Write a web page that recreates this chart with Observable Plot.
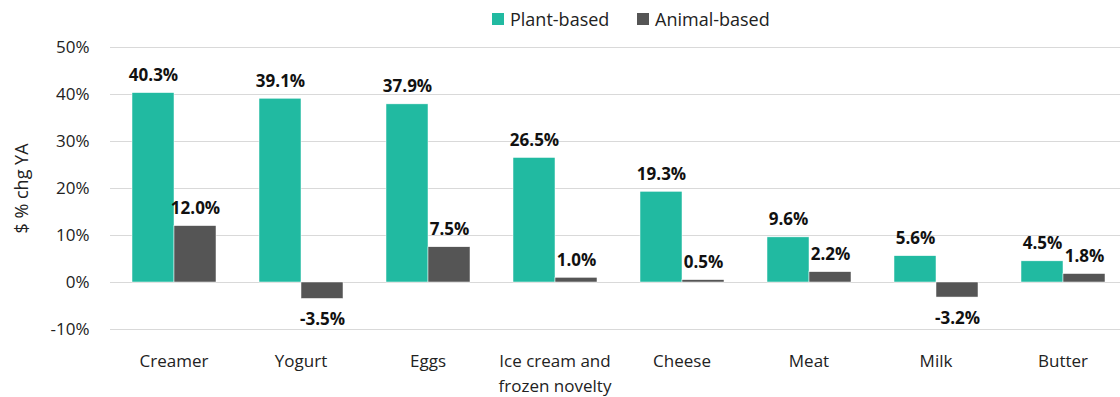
<!DOCTYPE html>
<html>
<head>
<meta charset="utf-8">
<script src="https://cdn.jsdelivr.net/npm/d3@7"></script>
<script src="https://cdn.jsdelivr.net/npm/@observablehq/plot@0.6"></script>
<style>
  html, body { margin: 0; padding: 0; background: #fff; }
  body { width: 1120px; height: 397px; overflow: hidden; font-family: "Open Sans", sans-serif; color: #222; }
  #legend { height: 36px; position: relative; font-size: 18px; }
  .item { position: absolute; top: 6px; display: flex; align-items: center; gap: 6px; line-height: 26px; }
  .sw { width: 12px; height: 12px; display: inline-block; }
</style>
</head>
<body>
<div id="legend"></div>
<div id="chart"></div>
<script>
const categories = ["Creamer", "Yogurt", "Eggs", "Ice cream and\nfrozen novelty", "Cheese", "Meat", "Milk", "Butter"];
const plantValues = [40.3, 39.1, 37.9, 26.5, 19.3, 9.6, 5.6, 4.5];
const animalValues = [12.0, -3.5, 7.5, 1.0, 0.5, 2.2, -3.2, 1.8];
const series = ["Plant-based", "Animal-based"];
const colors = ["#21BAA1", "#555555"];
const yTicks = [-10, 0, 10, 20, 30, 40, 50];

const data = [];
categories.forEach((c, i) => {
  data.push({category: c, series: series[0], value: plantValues[i]});
  data.push({category: c, series: series[1], value: animalValues[i]});
});

// legend
const legend = document.getElementById("legend");
const legendX = [492, 637];
series.forEach((s, i) => {
  const it = document.createElement("div");
  it.className = "item";
  it.style.left = legendX[i] + "px";
  it.innerHTML = `<span class="sw" style="background:${colors[i]}"></span><span>${s}</span>`;
  legend.appendChild(it);
});

const chart = Plot.plot({
  width: 1120,
  height: 361,
  marginTop: 11,
  marginBottom: 68,
  marginLeft: 108,
  marginRight: 0,
  style: {fontFamily: "Open Sans, sans-serif", color: "#222", background: "transparent"},
  fx: {domain: categories, range: [109.5, 1125.5], padding: 0, label: null},
  x: {domain: series, paddingInner: 0, paddingOuter: 0.49, axis: null},
  y: {domain: [-10, 50], label: null},
  color: {domain: series, range: colors},
  marks: [
    Plot.ruleY(yTicks, {stroke: "#d9d9d9", strokeWidth: 1}),
    Plot.barY(data, {fx: "category", x: "series", y: "value", fill: "series", stroke: "#ffffff", strokeWidth: 0.5}),
    Plot.text(data.filter(d => d.value >= 0), {fx: "category", x: "series", y: "value", text: d => d.value.toFixed(1) + "%", lineAnchor: "bottom", dy: -12, fontSize: 17, fontWeight: "bold", fill: "#111"}),
    Plot.text(data.filter(d => d.value < 0), {fx: "category", x: "series", y: "value", text: d => d.value.toFixed(1) + "%", lineAnchor: "top", dy: 14, fontSize: 17, fontWeight: "bold", fill: "#111"}),
    Plot.axisFx({anchor: "bottom", tickSize: 0, tickPadding: 20, fontSize: 17, lineHeight: 1.45, label: null}),
    Plot.axisY({ticks: yTicks, tickFormat: d => d + "%", tickSize: 0, tickPadding: 21, fontSize: 17, label: null}),
    Plot.axisY({ticks: [], tickSize: 0, fontSize: 18, label: "$ % chg YA", labelAnchor: "center", labelArrow: "none", labelOffset: 95})
  ]
});
document.getElementById("chart").appendChild(chart);
</script>
</body>
</html>
